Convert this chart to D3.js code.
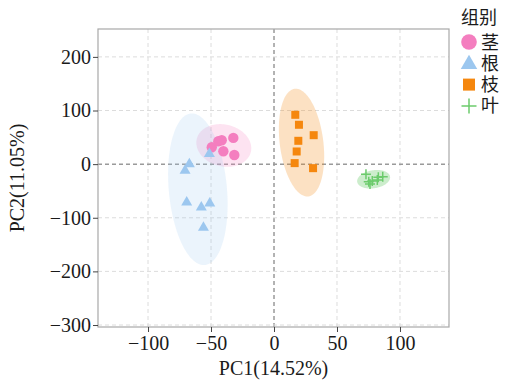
<!DOCTYPE html>
<html><head><meta charset="utf-8">
<script src="https://cdn.jsdelivr.net/npm/d3@7"></script>
<style>body{margin:0;background:#fff}svg{display:block}</style>
</head><body>
<script>
const groups = ["茎","根","枝","叶"];
const colors = ["#F47EBF","#9CC7EF","#F5870E","#6CCB6C"];
const shapes = ["circle","triangle","square","plus"];
const stemX = [-49.4,-44.2,-41.5,-32.3,-40.2,-31.5];
const stemY = [31.5,42.7,44.6,48.9,24.1,17.0];
const rootX = [-67.2,-70.6,-51.3,-69.3,-57.7,-51.0,-56.0];
const rootY = [1.3,-11.0,20.5,-70.0,-79.6,-72.0,-117.0];
const branchX = [16.9,19.8,31.5,19.3,18.0,16.4,31.0];
const branchY = [92.0,73.4,54.0,43.5,23.6,1.9,-7.5];
const leafX = [73.0,76.2,78.0,82.0,82.8,86.3,75.2];
const leafY = [-18.8,-37.0,-31.3,-29.5,-24.4,-23.3,-33.0];
const xTicks = [-100,-50,0,50,100];
const yTicks = [200,100,0,-100,-200,-300];
const xTitle = "PC1(14.52%)", yTitle = "PC2(11.05%)", legendTitle = "组别";

const seriesX = [stemX, rootX, branchX, leafX];
const seriesY = [stemY, rootY, branchY, leafY];

const W = 506, H = 384;
const L = 98, R = 449, T = 29, B = 327;
const x = d3.scaleLinear().domain([-139.7, 138.9]).range([L, R]);
const y = d3.scaleLinear().domain([-303.7, 252]).range([B, T]);

const svg = d3.select("body").append("svg").attr("width", W).attr("height", H);
const serif = "'Liberation Serif','Times New Roman',serif";
const cjk = "'Noto Sans CJK SC',sans-serif";

// grid
const grid = svg.append("g");
xTicks.forEach(t => grid.append("line").attr("x1", x(t)).attr("x2", x(t)).attr("y1", T).attr("y2", B)
  .attr("stroke", t === 0 ? "#9a9a9a" : "#dcdcdc").attr("stroke-width", t === 0 ? 1.5 : 1).attr("stroke-dasharray", "4,3"));
yTicks.forEach(t => grid.append("line").attr("y1", y(t)).attr("y2", y(t)).attr("x1", L).attr("x2", R)
  .attr("stroke", t === 0 ? "#9a9a9a" : "#dcdcdc").attr("stroke-width", t === 0 ? 1.5 : 1).attr("stroke-dasharray", "4,3"));

// ellipses from covariance
const levels = [3.15, 2.8, 2.75, 2.75];
function ellipse(xs, ys, level) {
  const n = xs.length;
  const mx = d3.mean(xs), my = d3.mean(ys);
  let sxx = 0, syy = 0, sxy = 0;
  for (let i = 0; i < n; i++) {
    const dx = xs[i] - mx, dy = ys[i] - my;
    sxx += dx * dx; syy += dy * dy; sxy += dx * dy;
  }
  sxx /= n - 1; syy /= n - 1; sxy /= n - 1;
  const a = Math.sqrt(sxx), b = sxy / a, c = Math.sqrt(Math.max(syy - b * b, 0));
  const pts = [];
  for (let k = 0; k < 120; k++) {
    const th = 2 * Math.PI * k / 120;
    const u = Math.cos(th) * level, v = Math.sin(th) * level;
    pts.push([x(mx + a * u), y(my + b * u + c * v)]);
  }
  return pts;
}
const eg = svg.append("g");
const fillOp = [0.22, 0.2, 0.25, 0.35];
groups.forEach((g, i) => {
  eg.append("path").attr("d", d3.line().curve(d3.curveLinearClosed)(ellipse(seriesX[i], seriesY[i], levels[i])))
    .attr("fill", colors[i]).attr("fill-opacity", fillOp[i]).attr("stroke", "none");
});

function marker(sel, shape, color, cx, cy, s) {
  if (shape === "circle") sel.append("circle").attr("cx", cx).attr("cy", cy).attr("r", s * 0.52).attr("fill", color);
  else if (shape === "triangle") {
    const h = s * 0.95, w = s * 1.1;
    sel.append("path").attr("d", `M${cx},${cy - h * 0.6}L${cx + w / 2},${cy + h * 0.4}L${cx - w / 2},${cy + h * 0.4}Z`).attr("fill", color);
  } else if (shape === "square") {
    sel.append("rect").attr("x", cx - s * 0.4).attr("y", cy - s * 0.4).attr("width", s * 0.8).attr("height", s * 0.8).attr("fill", color);
  } else {
    const h = s * 0.5;
    sel.append("path").attr("d", `M${cx - h},${cy}H${cx + h}M${cx},${cy - h}V${cy + h}`).attr("stroke", color).attr("stroke-width", 1.5).attr("fill", "none");
  }
}

// points
const pg = svg.append("g");
groups.forEach((g, i) => {
  seriesX[i].forEach((vx, j) => marker(pg, shapes[i], colors[i], x(vx), y(seriesY[i][j]), 10));
});

// frame
svg.append("rect").attr("x", L).attr("y", T).attr("width", R - L).attr("height", B - T)
  .attr("fill", "none").attr("stroke", "#a8a8a8").attr("stroke-width", 1.2);

// axes
const xa = svg.append("g").attr("transform", `translate(0,${B})`)
  .call(d3.axisBottom(x).tickValues(xTicks).tickSize(5).tickPadding(4).tickFormat(d3.format("d")));
const ya = svg.append("g").attr("transform", `translate(${L},0)`)
  .call(d3.axisLeft(y).tickValues(yTicks).tickSize(5).tickPadding(2).tickFormat(d3.format("d")));
[xa, ya].forEach(a => {
  a.select(".domain").remove();
  a.selectAll(".tick line").attr("stroke", "#444");
  a.selectAll(".tick text").attr("font-family", serif).attr("font-size", 20).attr("fill", "#1a1a1a");
});
xa.selectAll(".tick text").attr("dy", "0.72em");

svg.append("text").attr("x", (L + R) / 2).attr("y", 375).attr("text-anchor", "middle")
  .attr("font-family", serif).attr("font-size", 20).attr("fill", "#1a1a1a").text(xTitle);
svg.append("text").attr("transform", `translate(24,${(T + B) / 2}) rotate(-90)`).attr("text-anchor", "middle")
  .attr("font-family", serif).attr("font-size", 20).attr("fill", "#1a1a1a").text(yTitle);

// legend
const lg = svg.append("g");
lg.append("text").attr("x", 461).attr("y", 24).attr("font-family", cjk).attr("font-size", 18).attr("fill", "#1a1a1a").text(legendTitle);
groups.forEach((g, i) => {
  const cy = 42 + i * 21.3;
  marker(lg, shapes[i], colors[i], 469, cy, 15);
  lg.append("text").attr("x", 481).attr("y", cy + 6.5).attr("font-family", cjk).attr("font-size", 18).attr("fill", "#1a1a1a").text(g);
});
</script>
</body></html>
